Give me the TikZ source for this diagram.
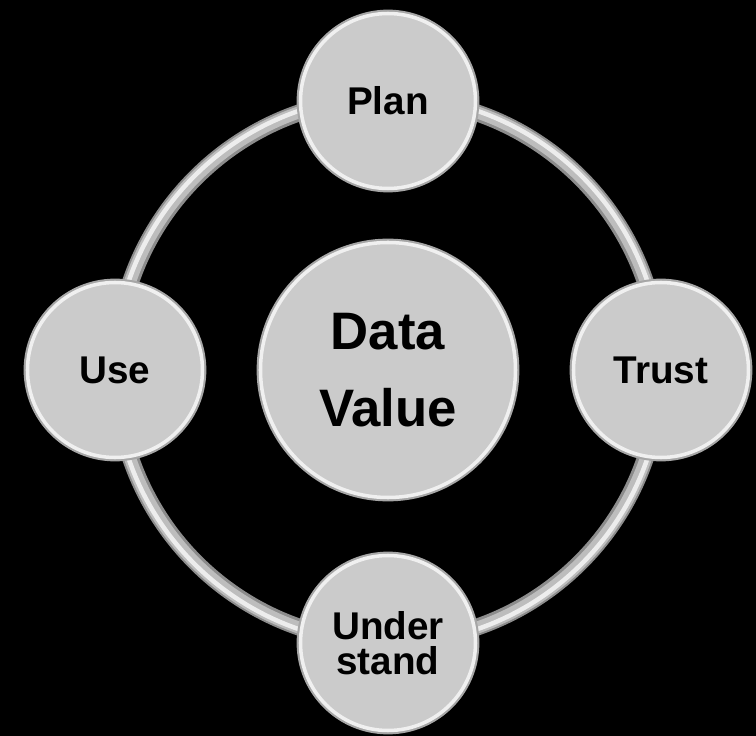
\documentclass[tikz,border=0pt]{standalone}
\usepackage{fontspec}
\setmainfont{Liberation Sans}
\usepackage{tikz}
\usetikzlibrary{positioning}
\usepackage{xcolor}
\definecolor{face}{HTML}{CBCBCB}
\definecolor{rimdark}{HTML}{A6A6A6}
\definecolor{rimlight}{HTML}{F0F0F0}
\definecolor{tube}{HTML}{8C8C8C}
\definecolor{tubemid}{HTML}{BDBDBD}
\definecolor{tubehi}{HTML}{EDEDED}
\tikzset{
  knob/.style={circle, fill=face, inner sep=0pt, align=center,
               minimum size=3.5cm, text=black,
               font=\fontsize{22}{20}\selectfont\bfseries,
               preaction={draw=rimdark, line width=4.4pt},
               draw=rimlight, line width=2pt},
  hub/.style={knob, minimum size=5.1cm,
              font=\fontsize{30}{44}\selectfont\bfseries},
}

\begin{document}
\begin{tikzpicture}

  %% Background
  \fill[black] (-7.76,-7.32) rectangle (7.36,7.40);

  %% Ring
  \draw[tube,    line width=0.34cm] (0,0) circle (5.44);
  \draw[tubemid, line width=0.24cm] (0,0) circle (5.45);
  \draw[tubehi,  line width=0.09cm] (0,0) circle (5.48);

  %% Centre
  \node[hub] (value) at (0,0) {Data\\Value};

  %% Stages
  \node[knob] (plan)       at (0,5.38)   {Plan};
  \node[knob] (trust)      at (5.46,0)   {Trust};
  \node[knob] (understand) at (0,-5.46)  {Under\\stand};
  \node[knob] (use)        at (-5.46,0)  {Use};

\end{tikzpicture}
\end{document}
